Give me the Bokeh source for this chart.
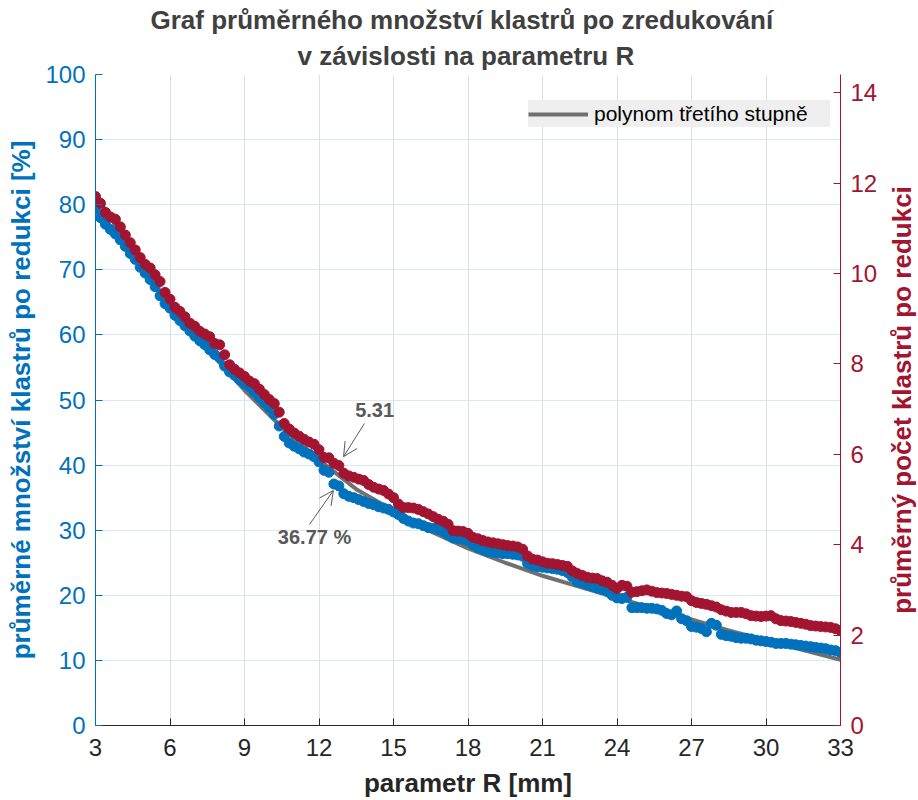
import numpy as np
from bokeh.plotting import figure
from bokeh.models import (Range1d, LinearAxis, FixedTicker, Legend, LegendItem, Title,
                          Arrow, OpenHead, Label, ColumnDataSource)
from bokeh.embed import file_html
from bokeh.resources import INLINE

# ---------------- data ----------------
R_values = [round(3.0 + 0.2 * i, 1) for i in range(151)]   # parametr R [mm]

blue_pct = [
    79.3, 78.0, 77.0, 76.2, 75.5, 74.6, 73.6, 72.5, 71.6, 70.4,
    69.5, 68.5, 67.4, 66.0, 64.8, 64.1, 63.0, 62.2, 61.4, 60.6,
    59.8, 59.1, 58.5, 57.7, 57.0, 56.5, 55.2, 54.3, 53.8, 53.1,
    52.5, 52.0, 51.2, 50.4, 49.6, 48.8, 47.8, 46.0, 44.4, 43.4,
    42.9, 42.5, 42.0, 41.7, 41.3, 40.5, 39.2, 38.9, 37.1, 36.8,
    35.6, 35.2, 35.0, 34.7, 34.4, 34.1, 33.9, 33.6, 33.4, 33.2,
    32.8, 32.4, 31.8, 31.4, 31.1, 31.0, 30.7, 30.4, 30.3, 30.1,
    29.8, 29.3, 28.8, 28.7, 28.6, 28.3, 27.8, 27.3, 27.0, 26.7,
    26.6, 26.5, 26.4, 26.4, 26.3, 26.2, 26.0, 24.9, 24.5, 24.4,
    24.3, 24.2, 24.1, 24.0, 23.8, 23.5, 22.8, 22.1, 21.9, 21.6,
    21.4, 21.1, 20.9, 20.6, 20.0, 19.6, 19.5, 19.7, 18.1, 18.1,
    18.1, 18.0, 18.0, 17.9, 17.7, 17.2, 17.0, 17.6, 16.4, 16.1,
    15.2, 15.1, 14.9, 14.4, 15.7, 15.4, 14.0, 13.8, 13.7, 13.5,
    13.4, 13.4, 13.3, 13.1, 13.0, 12.9, 12.8, 12.6, 12.6, 12.6,
    12.5, 12.4, 12.3, 12.2, 12.1, 12.0, 11.9, 11.8, 11.6, 11.5,
    11.2,
]

red_count = [
    11.70, 11.55, 11.35, 11.25, 11.20, 11.03, 10.85, 10.68, 10.52, 10.35,
    10.20, 10.12, 9.97, 9.82, 9.58, 9.43, 9.25, 9.16, 9.04, 8.90,
    8.83, 8.72, 8.66, 8.60, 8.45, 8.42, 8.20, 7.98, 7.88, 7.80,
    7.72, 7.62, 7.56, 7.44, 7.32, 7.21, 7.12, 6.93, 6.68, 6.56,
    6.47, 6.40, 6.33, 6.27, 6.22, 6.10, 5.93, 5.92, 5.80, 5.75,
    5.58, 5.52, 5.49, 5.45, 5.42, 5.33, 5.27, 5.23, 5.20, 5.12,
    5.04, 4.90, 4.82, 4.82, 4.81, 4.78, 4.73, 4.68, 4.62, 4.56,
    4.52, 4.45, 4.31, 4.30, 4.29, 4.25, 4.16, 4.13, 4.09, 4.06,
    4.04, 4.02, 4.00, 3.98, 3.97, 3.95, 3.90, 3.75, 3.68, 3.66,
    3.62, 3.59, 3.58, 3.56, 3.54, 3.52, 3.42, 3.36, 3.32, 3.28,
    3.26, 3.25, 3.20, 3.17, 3.10, 3.03, 3.10, 3.08, 2.95, 2.96,
    2.98, 3.00, 2.97, 2.94, 2.93, 2.92, 2.90, 2.88, 2.86, 2.85,
    2.76, 2.72, 2.70, 2.68, 2.65, 2.62, 2.56, 2.53, 2.50, 2.50,
    2.50, 2.47, 2.43, 2.42, 2.41, 2.42, 2.43, 2.36, 2.32, 2.31,
    2.30, 2.28, 2.26, 2.24, 2.21, 2.20, 2.19, 2.18, 2.17, 2.14,
    2.10,
]

poly_R = [3, 4.5, 6, 7.5, 9, 10.5, 12, 13.5, 15, 16.5, 18, 19.5, 21, 22.5,
          24, 25.5, 27, 28.5, 30, 31.5, 33]
poly_pct = [81.5, 72.8, 64.5, 57.8, 51.5, 45.8, 40.8, 36.3, 33.0, 29.8, 27.2,
            25.0, 23.0, 21.3, 19.6, 18.0, 16.3, 14.6, 13.1, 11.6, 10.1]

x_ticks = [3, 6, 9, 12, 15, 18, 21, 24, 27, 30, 33]
left_ticks = [0, 10, 20, 30, 40, 50, 60, 70, 80, 90, 100]
right_ticks = [0, 2, 4, 6, 8, 10, 12, 14]

title_lines = ["Graf průměrného množství klastrů po zredukování",
               "v závislosti na parametru R"]
right_label = "průměrný počet klastrů po redukci"
legend_label = "polynom třetího stupně"
annot_count = "5.31"
annot_pct = "36.77 %"

# ---------------- styling ----------------
FONT = "Liberation Sans"
BLUE = "#0072BD"
RED = "#A2142F"
GREY = "#707070"
DARK = "#262626"

p = figure(frame_width=745, frame_height=651,
           x_range=Range1d(3, 33), y_range=Range1d(0, 100),
           output_backend="svg", toolbar_location=None,
           min_border_left=95, min_border_right=78,
           min_border_top=74, min_border_bottom=75)
p.background_fill_color = "white"
p.border_fill_color = "white"
p.outline_line_color = None

p.extra_y_ranges = {"right": Range1d(0, 14.4)}

xa = p.xaxis[0]
xa.ticker = FixedTicker(ticks=x_ticks)
xa.axis_label = "parametr R [mm]"
ya = p.yaxis[0]
ya.ticker = FixedTicker(ticks=left_ticks)
ya.axis_label = "průměrné množství klastrů po redukci [%]"
yr = LinearAxis(y_range_name="right", ticker=FixedTicker(ticks=right_ticks))
p.add_layout(yr, "right")

for ax, col in ((xa, DARK), (ya, BLUE), (yr, RED)):
    ax.axis_line_color = col
    ax.major_tick_line_color = col
    ax.minor_tick_line_color = None
    ax.major_tick_in = 7
    ax.major_tick_out = 0
    ax.major_label_text_color = col
    ax.major_label_text_font = FONT
    ax.major_label_text_font_size = "24px"
    ax.axis_label_text_color = col
    ax.axis_label_text_font = FONT
    ax.axis_label_text_font_size = "26px"
    ax.axis_label_text_font_style = "bold"
    ax.major_label_standoff = 10
    ax.axis_label_standoff = 4
xa.major_label_standoff = 13
xa.axis_label_standoff = 9
ya.axis_label_standoff = 6

# right axis label, reading bottom-to-top as in the reference,
# drawn in the right side panel so that it is not clipped by the frame
p.add_layout(Label(x=35.47, y=50, text=right_label, angle=np.pi / 2,
                   text_align="center", text_baseline="middle", text_font=FONT,
                   text_font_size="26px", text_font_style="bold", text_color=RED),
             "right")

p.xgrid.grid_line_color = "#dedede"
p.ygrid.grid_line_color = "#d9eaf5"

# titles (line 2 first: nearest to the plot)
p.add_layout(Title(text=title_lines[1], align="left", offset=202, text_font=FONT,
                   text_font_size="26px", text_font_style="bold",
                   text_color="#404040", standoff=8), "above")
p.add_layout(Title(text=title_lines[0], align="left", offset=55, text_font=FONT,
                   text_font_size="26px", text_font_style="bold",
                   text_color="#404040", standoff=0), "above")

src = ColumnDataSource(dict(R=R_values, blue=blue_pct, red=red_count))
poly = p.line(poly_R, poly_pct, line_color=GREY, line_width=4)
p.scatter("R", "blue", source=src, size=10, fill_color=BLUE, line_color=BLUE)
p.scatter("R", "red", source=src, size=10, fill_color=RED, line_color=RED,
          y_range_name="right")

legend = Legend(items=[LegendItem(label=legend_label, renderers=[poly])],
                location=(433, 598), background_fill_color="#efefef",
                background_fill_alpha=1.0, border_line_color=None,
                label_text_font=FONT, label_text_font_size="21px",
                label_text_color="black", glyph_width=60, glyph_height=24,
                label_height=27, label_standoff=6, padding=8, margin=0,
                label_width=236)
p.add_layout(legend)

# annotations
ann_col = "#595959"
p.add_layout(Arrow(end=OpenHead(size=14, line_color=ann_col, line_width=1),
                   x_start=13.83, y_start=46.4, x_end=12.99, y_end=41.3,
                   line_color=ann_col, line_width=1))
p.add_layout(Arrow(end=OpenHead(size=14, line_color=ann_col, line_width=1),
                   x_start=11.62, y_start=30.9, x_end=12.58, y_end=36.1,
                   line_color=ann_col, line_width=1))
p.add_layout(Label(x=14.24, y=48.5, text=annot_count, text_align="center",
                   text_baseline="middle", text_font=FONT, text_font_size="20px",
                   text_font_style="bold", text_color=ann_col))
p.add_layout(Label(x=11.82, y=29.0, text=annot_pct, text_align="center",
                   text_baseline="middle", text_font=FONT, text_font_size="20px",
                   text_font_style="bold", text_color=ann_col))

open("out.html", "w").write(file_html(p, INLINE))
